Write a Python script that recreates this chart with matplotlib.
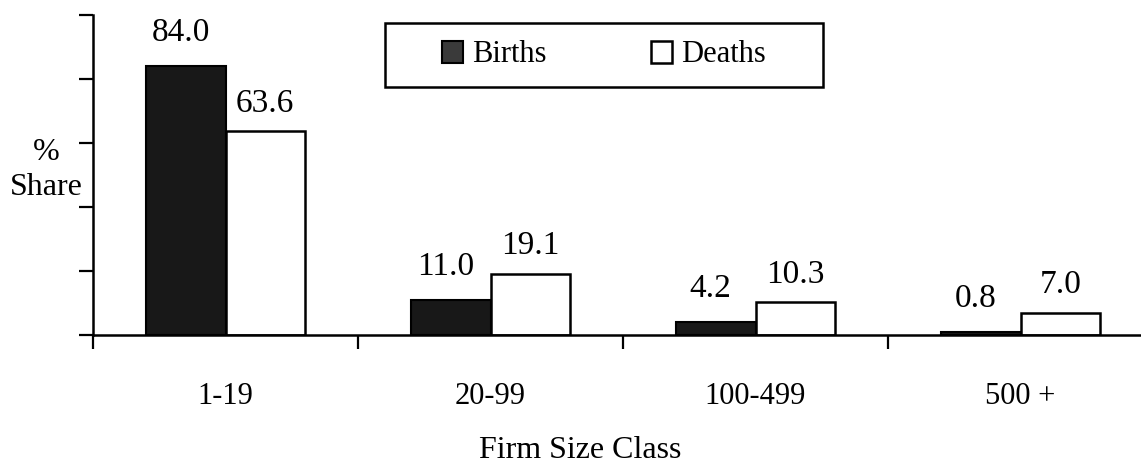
import matplotlib.pyplot as plt
from matplotlib.patches import Rectangle
import numpy as np

plt.rcParams['font.family'] = ['Liberation Serif', 'DejaVu Serif']

categories = ['1-19', '20-99', '100-499', '500 +']
births = [84.0, 11.0, 4.2, 0.8]
deaths = [63.6, 19.1, 10.3, 7.0]

fig = plt.figure(figsize=(11.41, 4.67), dpi=100)
ax = fig.add_axes([93 / 1141, 1 - 335 / 467, 1 - 93 / 1141, (335 - 15) / 467])

x = np.arange(len(categories))
w = 0.30
b1 = ax.bar(x - w / 2, births, w, color='#181818', edgecolor='black', linewidth=1.5, label='Births')
b2 = ax.bar(x + w / 2, deaths, w, color='white', edgecolor='black', linewidth=1.8, label='Deaths')

for rect, v in zip(b1, births):
    ax.annotate(f'{v:.1f}', (rect.get_x() + rect.get_width() / 2 - 0.02, v), xytext=(0, 13),
                textcoords='offset points', ha='center', va='bottom', fontsize=24)
for rect, v in zip(b2, deaths):
    ax.annotate(f'{v:.1f}', (rect.get_x() + rect.get_width() / 2, v), xytext=(0, 9),
                textcoords='offset points', ha='center', va='bottom', fontsize=24)

ax.set_xlim(-0.5, -0.5 + (1141 - 93) / 265)
ax.set_ylim(0, 100)
ax.set_yticks(np.arange(0, 101, 20))
ax.set_yticklabels([])
ax.tick_params(axis='y', direction='out', length=10, width=1.6)

ax.set_xticks(x)
ax.set_xticklabels(categories, fontsize=22)
ax.tick_params(axis='x', which='major', length=0, pad=34)
ax.set_xticks([-0.5, 0.5, 1.5, 2.5], minor=True)
ax.tick_params(axis='x', which='minor', direction='out', length=10, width=1.6)

for s in ['top', 'right']:
    ax.spines[s].set_visible(False)
for s in ['left', 'bottom']:
    ax.spines[s].set_linewidth(1.8)

fig.text(46 / 1141, 1 - 170 / 467, '%\nShare', ha='center', va='center', fontsize=23, linespacing=1.3)
fig.text(580 / 1141, 1 - 450 / 467, 'Firm Size Class', ha='center', va='center', fontsize=23)

# legend box drawn separately, entries placed inside it
fig.patches.append(Rectangle((385 / 1141, 1 - 87 / 467), (823 - 385) / 1141, 64 / 467,
                             transform=fig.transFigure, fill=False, edgecolor='black',
                             linewidth=1.8, zorder=5))
leg = ax.legend(loc='center', bbox_to_anchor=(((385 + 823) / 2 - 93) / 1048, 1 - (55 - 15) / 320), ncol=2,
                fontsize=22, frameon=False,
                handlelength=0.7, handleheight=0.7, handletextpad=0.3,
                columnspacing=3.4, borderpad=0, borderaxespad=0)
leg.legend_handles[0].set_facecolor('#3a3a3a')

fig.savefig('out.png', dpi=100)
